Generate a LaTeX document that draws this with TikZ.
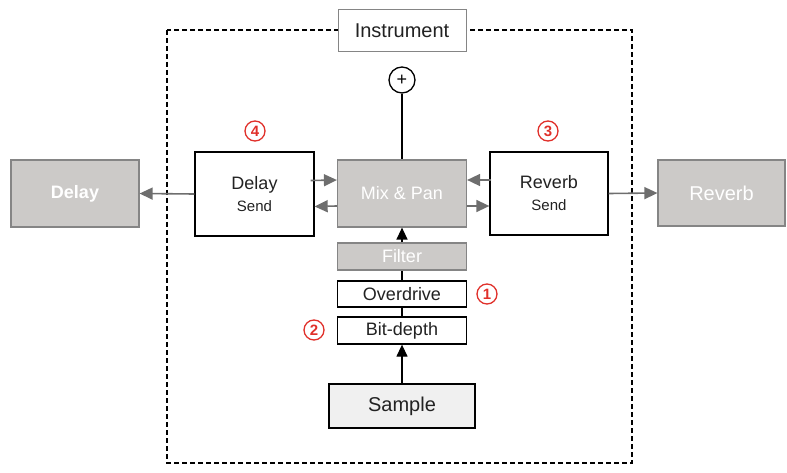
\documentclass[tikz,border=0pt]{standalone}
\usepackage{fontspec}
\setmainfont{Liberation Sans}
\usetikzlibrary{arrows.meta}
\definecolor{boxgray}{HTML}{CCCAC8}
\definecolor{edgegray}{HTML}{858585}
\definecolor{arrgray}{HTML}{6E6E6E}
\definecolor{numred}{HTML}{E0302A}
\definecolor{txt}{HTML}{222222}
\tikzset{
  blk/.style={draw=black,line width=1.3pt,fill=white,text=txt,inner sep=0pt,
    font=\fontsize{18}{20}\selectfont},
  gry/.style={draw=edgegray,line width=1.2pt,fill=boxgray,text=white,inner sep=0pt,
    font=\fontsize{18}{20}\selectfont},
  num/.style={circle,draw=numred,line width=1.3pt,minimum size=20pt,inner sep=0pt,
    text=numred,font=\fontsize{15}{15}\selectfont\bfseries},
  garr/.style={draw=arrgray,line width=1.6pt,-{Triangle[length=13pt,width=12pt]}},
  barr/.style={draw=black,line width=1.3pt,-{Triangle[length=12pt,width=11pt]}},
  bln/.style={draw=black,line width=1.3pt}
}
\begin{document}
\begin{tikzpicture}[x=1pt,y=-1pt]
  \useasboundingbox (0,0) rectangle (787,473);
  \draw[line width=1.4pt,dash pattern=on 5pt off 3pt] (167,30) rectangle (632,463);
  \node[draw=edgegray,line width=1pt,fill=white,text=txt,minimum width=128pt,minimum height=42pt,
    font=\fontsize{20}{22}\selectfont] (inst) at (402,31) {Instrument};
  \node[circle,draw=black,line width=1.3pt,fill=white,minimum size=26pt,inner sep=0pt,
    font=\fontsize{18}{18}\selectfont] (plus) at (402,80) {+};
  % centre and sends
  \node[gry,minimum width=129pt,minimum height=67pt] (mix) at (402,193.5) {Mix \& Pan};
  \node[blk,minimum width=119pt,minimum height=84pt,align=center] (dsend) at (254.5,194)
    {Delay\\[2pt]{\fontsize{15}{17}\selectfont Send}};
  \node[blk,minimum width=118pt,minimum height=83pt,align=center] (rsend) at (549,193.5)
    {Reverb\\[2pt]{\fontsize{15}{17}\selectfont Send}};
  \node[gry,minimum width=128pt,minimum height=67pt,font=\fontsize{18}{20}\selectfont\bfseries] (delay) at (75,193.5) {Delay};
  \node[gry,minimum width=127pt,minimum height=66pt,font=\fontsize{20}{22}\selectfont] (reverb) at (721.5,193) {Reverb};
  % chain
  \node[gry,minimum width=129pt,minimum height=27pt] (filter) at (402,256.5) {Filter};
  \node[blk,minimum width=129pt,minimum height=26pt] (od) at (402,294) {Overdrive};
  \node[blk,minimum width=129pt,minimum height=27pt] (bd) at (402,330.5) {Bit-depth};
  \node[draw=black,line width=2pt,fill=black!6,text=txt,inner sep=0pt,minimum width=146pt,minimum height=44pt,
    font=\fontsize{20}{22}\selectfont] (sample) at (402,406) {Sample};
  % connectors
  \draw[bln] (plus.south) -- (mix.north);
  \draw[barr] (filter.north) -- (mix.south);
  \draw[bln] (od.north) -- (filter.south);
  \draw[bln] (bd.north) -- (od.south);
  \draw[barr] (sample.north) -- (bd.south);
  \draw[garr] (dsend.west) -- (delay.east);
  \draw[garr] ([xshift=-4pt,yshift=13.5pt]dsend.east) -- ([yshift=13.5pt]mix.west);
  \draw[garr] ([yshift=-12.5pt]mix.west) -- ([yshift=-12.5pt]dsend.east);
  \draw[garr] ([xshift=2pt,yshift=13.5pt]rsend.west) -- ([yshift=13.5pt]mix.east);
  \draw[garr] ([yshift=-12.5pt]mix.east) -- ([yshift=-12.5pt]rsend.west);
  \draw[garr] (rsend.east) -- (reverb.west);
  % numbers
  \node[num] (n4) at (255,131) {4};
  \node[num] (n3) at (548,131) {3};
  \node[num] (n1) at (487,294) {1};
  \node[num] (n2) at (314,330) {2};
\end{tikzpicture}
\end{document}
